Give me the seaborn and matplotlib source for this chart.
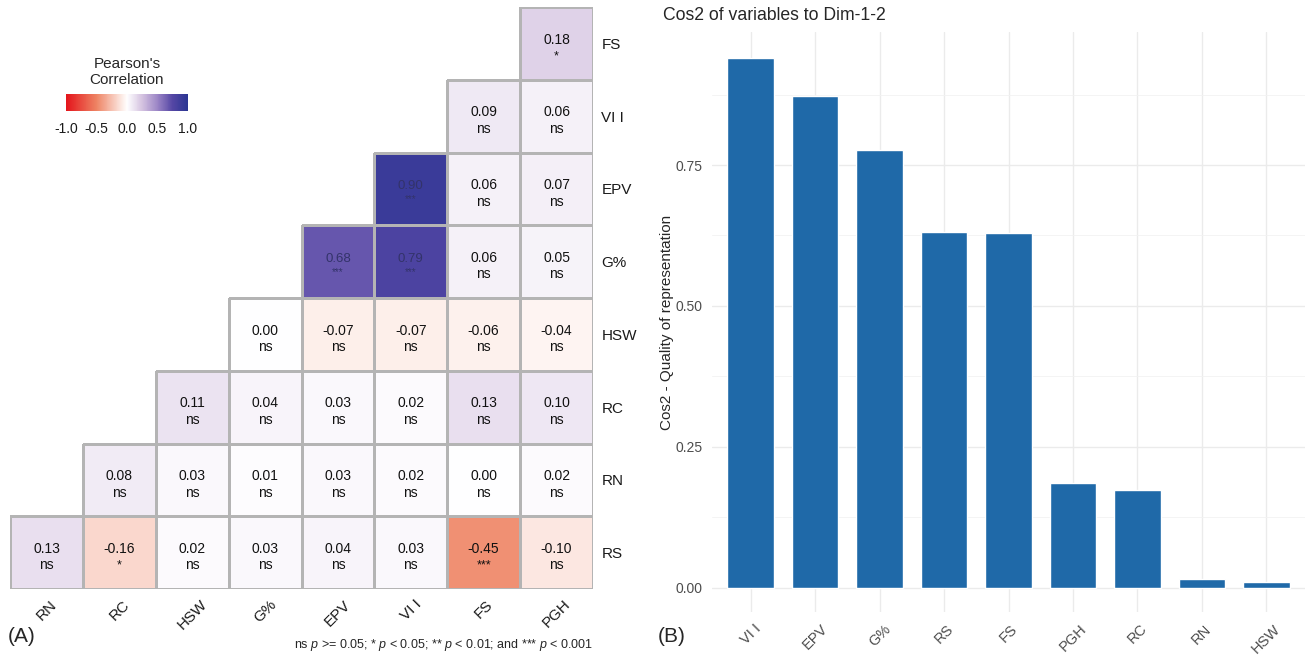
import numpy as np
import pandas as pd
import matplotlib
matplotlib.use('Agg')
import matplotlib.pyplot as plt
from matplotlib.colors import LinearSegmentedColormap
import seaborn as sns

# Correlation matrix (upper triangle, one list per row, top to bottom)
row_labels = ['FS', 'VI I', 'EPV', 'G%', 'HSW', 'RC', 'RN', 'RS']
col_labels = ['RN', 'RC', 'HSW', 'G%', 'EPV', 'VI I', 'FS', 'PGH']

r_fs = [0.18]
r_vii = [0.09, 0.06]
r_epv = [0.90, 0.06, 0.07]
r_g = [0.68, 0.79, 0.06, 0.05]
r_hsw = [0.00, -0.07, -0.07, -0.06, -0.04]
r_rc = [0.11, 0.04, 0.03, 0.02, 0.13, 0.10]
r_rn = [0.08, 0.03, 0.01, 0.03, 0.02, 0.00, 0.02]
r_rs = [0.13, -0.16, 0.02, 0.03, 0.04, 0.03, -0.45, -0.10]

s_fs = ['*']
s_vii = ['ns', 'ns']
s_epv = ['***', 'ns', 'ns']
s_g = ['***', '***', 'ns', 'ns']
s_hsw = ['ns'] * 5
s_rc = ['ns'] * 6
s_rn = ['ns'] * 7
s_rs = ['ns', '*', 'ns', 'ns', 'ns', 'ns', '***', 'ns']

# Cos2 of variables
cos2_vars = ['VI I', 'EPV', 'G%', 'RS', 'FS', 'PGH', 'RC', 'RN', 'HSW']
cos2_vals = [0.940, 0.872, 0.777, 0.631, 0.629, 0.186, 0.173, 0.015, 0.010]

sns.set_theme(style='white')
plt.rcParams['font.family'] = ['Liberation Sans', 'DejaVu Sans']
plt.rcParams['mathtext.fontset'] = 'custom'
plt.rcParams['mathtext.it'] = 'Liberation Sans:italic'
plt.rcParams['mathtext.rm'] = 'Liberation Sans'

# build matrix
corr_lists = [r_fs, r_vii, r_epv, r_g, r_hsw, r_rc, r_rn, r_rs]
sig_lists = [s_fs, s_vii, s_epv, s_g, s_hsw, s_rc, s_rn, s_rs]
n = len(col_labels)
mat = np.full((n, n), np.nan)
sig = np.full((n, n), '', dtype=object)
for i, (vals, sg) in enumerate(zip(corr_lists, sig_lists)):
    mat[i, n - len(vals):] = vals
    sig[i, n - len(sg):] = sg
corr_df = pd.DataFrame(mat, index=row_labels, columns=col_labels)

cmap = LinearSegmentedColormap.from_list('pc', [
    (0.0, '#E4141B'), (0.25, '#EE8464'), (0.5, '#FFFFFF'),
    (0.625, '#D4C2E0'), (0.75, '#9C86C6'), (0.875, '#5446A4'), (1.0, '#2B3592')])

W, H = 1306, 659
fig = plt.figure(figsize=(W / 100, H / 100), dpi=100)

# ---- (A) heatmap ----
ax1 = fig.add_axes([10 / W, 1 - 589 / H, 583 / W, 582 / H])
cax = fig.add_axes([66 / W, 1 - 111 / H, 122 / W, 17 / H])
sns.heatmap(corr_df, mask=corr_df.isna(), cmap=cmap, vmin=-1, vmax=1,
            linewidths=0.8, linecolor='#B4B4B4', square=False, ax=ax1, cbar_ax=cax,
            cbar_kws={'orientation': 'horizontal', 'ticks': [-1, -0.5, 0, 0.5, 1]})
# no borders on the empty (masked) half
mesh = ax1.collections[0]
mesh.set_edgecolor([(0.706, 0.706, 0.706, 1) if not np.isnan(v) else (0, 0, 0, 0)
                    for v in mat.ravel()])

for i in range(n):
    for j in range(n):
        v = mat[i, j]
        if np.isnan(v):
            continue
        if v > 0.6:
            ax1.text(j + 0.5, i + 0.46, f'{v:.2f}', ha='center', va='center',
                     fontsize=9.5, color='#33336a')
            ax1.text(j + 0.5, i + 0.64, sig[i, j], ha='center', va='center',
                     fontsize=7, color='#33336a')
        else:
            ax1.text(j + 0.5, i + 0.45, f'{v:.2f}', ha='center', va='center',
                     fontsize=10, color='#111111')
            if sig[i, j] == 'ns':
                ax1.text(j + 0.5, i + 0.675, 'ns', ha='center', va='center',
                         fontsize=10, color='#111111')
            else:
                ax1.text(j + 0.5, i + 0.68, sig[i, j], ha='center', va='center',
                         fontsize=9, color='#111111')

ax1.yaxis.tick_right()
ax1.set_yticklabels(row_labels, rotation=0, fontsize=11, color='#1a1a1a')
ax1.set_xticklabels(col_labels, rotation=45, ha='center', fontsize=11, color='#1a1a1a')
ax1.tick_params(length=0, pad=6)
ax1.set_xlabel('')
ax1.set_ylabel('')

cax.set_xticklabels(['-1.0', '-0.5', '0.0', '0.5', '1.0'], fontsize=10, color='#1a1a1a')
cax.tick_params(axis='x', direction='in', length=4, color='white', pad=8)
for sp in cax.spines.values():
    sp.set_visible(False)
cbar = mesh.colorbar
if cbar is not None:
    cbar.outline.set_visible(False)
fig.text(127 / W, 1 - 72 / H, "Pearson's\nCorrelation", ha='center', va='center',
         fontsize=11, linespacing=1.2)

fig.text(8 / W, 1 - 636 / H, '(A)', fontsize=15, va='center', ha='left')
fig.text(593 / W, 1 - 645 / H,
         r'ns $p$ >= 0.05; * $p$ < 0.05; ** $p$ < 0.01; and *** $p$ < 0.001',
         fontsize=9, ha='right', va='center')

# ---- (B) bar chart ----
ax2 = fig.add_axes([712 / W, 1 - 612 / H, 593 / W, 580 / H])
sns.barplot(x=cos2_vars, y=cos2_vals, color='#1F69A8', saturation=1, width=0.72, ax=ax2)
ax2.set_xlim(-0.6, len(cos2_vars) - 0.4)
ax2.set_ylim(-0.043, 0.986)
ax2.set_yticks([0, 0.25, 0.5, 0.75])
ax2.set_yticklabels(['0.00', '0.25', '0.50', '0.75'], fontsize=10, color='#4d4d4d')
ax2.set_yticks([0.125, 0.375, 0.625, 0.875], minor=True)
ax2.grid(True, which='major', color='#EBEBEB', linewidth=1)
ax2.grid(True, which='minor', axis='y', color='#F2F2F2', linewidth=0.6)
ax2.set_axisbelow(True)
for sp in ax2.spines.values():
    sp.set_visible(False)
ax2.tick_params(axis='both', which='major', length=4, color='#333333', width=1.2, pad=3)
ax2.tick_params(axis='y', which='minor', length=0)
ax2.set_xticks(range(len(cos2_vars)))
ax2.set_xticklabels(cos2_vars, rotation=45, ha='center', fontsize=10.5, color='#4d4d4d')
ax2.set_ylabel('Cos2 - Quality of representation', fontsize=11, labelpad=1)
fig.text(663 / W, 1 - 16 / H, 'Cos2 of variables to Dim-1-2', fontsize=12.7,
         ha='left', va='center')
fig.text(658 / W, 1 - 636 / H, '(B)', fontsize=15, va='center', ha='left')

fig.savefig('out.png', dpi=100)
